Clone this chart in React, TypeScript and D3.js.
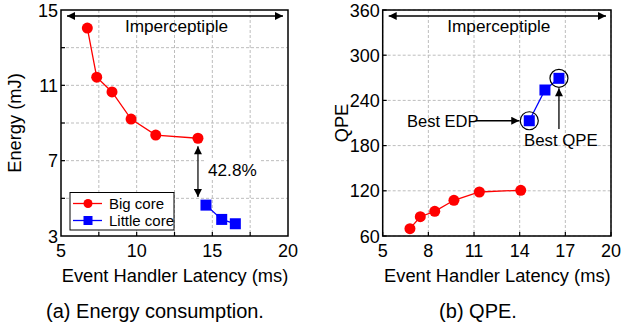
import * as React from 'react';
import * as d3 from 'd3';

// latency (ms) / energy (mJ) / QPE
const bigLatencyA = [6.74, 7.36, 8.37, 9.63, 11.26, 14.05];
const bigEnergy = [14.04, 11.43, 10.65, 9.21, 8.36, 8.19];
const littleLatencyA = [14.58, 15.62, 16.52];
const littleEnergy = [4.64, 3.88, 3.65];

const bigLatencyB = [6.79, 7.47, 8.42, 9.68, 11.35, 14.07];
const bigQpe = [69.7, 85.6, 92.8, 107.4, 118.4, 120.7];
const littleLatencyB = [14.63, 15.66, 16.58];
const littleQpe = [213, 253.8, 269.3];

const energyTicks = [3, 7, 11, 15];
const energyGrid = [5, 7, 9, 11, 13];
const latencyTicksA = [5, 10, 15, 20];
const latencyGridA = [7.5, 10, 12.5, 15, 17.5];
const qpeTicks = [60, 120, 180, 240, 300, 360];
const latencyTicksB = [5, 8, 11, 14, 17, 20];

const FONT = '"Liberation Sans", Arial, Helvetica, sans-serif';

function App() {
    const ref = React.useRef<SVGSVGElement>(null);

    React.useEffect(() => {
        const svg = d3.select(ref.current);
        svg.selectAll('*').remove();

        const defs = svg.append('defs');
        defs.append('marker')
            .attr('id', 'head')
            .attr('viewBox', '0 0 10 10')
            .attr('refX', 10)
            .attr('refY', 5)
            .attr('markerWidth', 10)
            .attr('markerHeight', 8)
            .attr('markerUnits', 'userSpaceOnUse')
            .attr('orient', 'auto-start-reverse')
            .append('path')
            .attr('d', 'M0,0L10,5L0,10Z')
            .attr('fill', '#000');

        const top = 10, bottom = 236;

        const drawPanel = (cfg) => {
            const x = d3.scaleLinear().domain([5, 20]).range([cfg.left, cfg.right]);
            const y = d3.scaleLinear().domain(cfg.yDomain).range([bottom, top]);
            const g = svg.append('g');

            // grid
            g.selectAll('.vgrid').data(cfg.xGrid).enter().append('line')
                .attr('x1', d => x(d)).attr('x2', d => x(d))
                .attr('y1', top).attr('y2', bottom)
                .attr('stroke', '#bdbdbd').attr('stroke-width', 1)
                .attr('stroke-dasharray', '3,2');
            g.selectAll('.hgrid').data(cfg.yGrid).enter().append('line')
                .attr('x1', cfg.left).attr('x2', cfg.right)
                .attr('y1', d => y(d)).attr('y2', d => y(d))
                .attr('stroke', '#bdbdbd').attr('stroke-width', 1)
                .attr('stroke-dasharray', '3,2');

            // inward ticks
            g.selectAll('.xt').data(cfg.xGrid).enter().append('line')
                .attr('x1', d => x(d)).attr('x2', d => x(d))
                .attr('y1', bottom).attr('y2', bottom - 4)
                .attr('stroke', '#000').attr('stroke-width', 1.2);
            g.selectAll('.yt').data(cfg.yGrid).enter().append('line')
                .attr('x1', cfg.left).attr('x2', cfg.left + 4)
                .attr('y1', d => y(d)).attr('y2', d => y(d))
                .attr('stroke', '#000').attr('stroke-width', 1.2);

            g.append('rect')
                .attr('x', cfg.left).attr('y', top)
                .attr('width', cfg.right - cfg.left).attr('height', bottom - top)
                .attr('fill', 'none').attr('stroke', '#000').attr('stroke-width', 1.5);

            // tick labels
            g.selectAll('.xl').data(cfg.xTicks).enter().append('text')
                .attr('x', d => x(d)).attr('y', 257)
                .attr('text-anchor', 'middle')
                .style('font-size', '18px').style('font-family', FONT)
                .text(d => d);
            g.selectAll('.yl').data(cfg.yTicks).enter().append('text')
                .attr('x', cfg.left - 3).attr('y', d => y(d) + 6.5)
                .attr('text-anchor', 'end')
                .style('font-size', '18px').style('font-family', FONT)
                .text(d => d);

            // axis titles
            g.append('text')
                .attr('x', (cfg.left + cfg.right) / 2 + 0.5).attr('y', 282)
                .attr('text-anchor', 'middle')
                .style('font-size', '18.3px').style('font-family', FONT)
                .text('Event Handler Latency (ms)');
            g.append('text')
                .attr('transform', 'translate(' + cfg.yLabelX + ',' + (top + bottom) / 2 + ') rotate(-90)')
                .attr('text-anchor', 'middle')
                .style('font-size', '18.3px').style('font-family', FONT)
                .text(cfg.yLabel);
            g.append('text')
                .attr('x', cfg.captionX).attr('y', 318)
                .attr('text-anchor', 'middle')
                .style('font-size', '20px').style('font-family', FONT)
                .text(cfg.caption);

            // imperceptible range arrow
            g.append('line')
                .attr('x1', cfg.left + 6).attr('x2', cfg.right - 5)
                .attr('y1', 16).attr('y2', 16)
                .attr('stroke', '#000').attr('stroke-width', 1.5)
                .attr('marker-start', 'url(#head)').attr('marker-end', 'url(#head)');
            g.append('text')
                .attr('x', (cfg.left + cfg.right) / 2 + 2).attr('y', 32)
                .attr('text-anchor', 'middle')
                .style('font-size', '17.2px').style('font-family', FONT)
                .text('Imperceptiple');

            const line = d3.line<[number, number]>().x(d => x(d[0])).y(d => y(d[1]));
            const big = cfg.bigX.map((v, i) => [v, cfg.bigY[i]] as [number, number]);
            const little = cfg.littleX.map((v, i) => [v, cfg.littleY[i]] as [number, number]);

            g.append('path').datum(big).attr('d', line)
                .attr('fill', 'none').attr('stroke', '#ff0000').attr('stroke-width', 1.3);
            g.selectAll('.big').data(big).enter().append('circle')
                .attr('cx', d => x(d[0])).attr('cy', d => y(d[1])).attr('r', 5.5)
                .attr('fill', '#ff0000');
            g.append('path').datum(little).attr('d', line)
                .attr('fill', 'none').attr('stroke', '#0000ff').attr('stroke-width', 1.3);
            g.selectAll('.little').data(little).enter().append('rect')
                .attr('x', d => x(d[0]) - 5.5).attr('y', d => y(d[1]) - 5.5)
                .attr('width', 11).attr('height', 11)
                .attr('fill', '#0000ff');

            return { g, x, y, big, little };
        };

        // (a) energy
        const a = drawPanel({
            left: 61, right: 288, yDomain: [3, 15],
            xGrid: latencyGridA, yGrid: energyGrid, xTicks: latencyTicksA, yTicks: energyTicks,
            yLabel: 'Energy (mJ)', yLabelX: 21, caption: '(a) Energy consumption.', captionX: 155,
            bigX: bigLatencyA, bigY: bigEnergy, littleX: littleLatencyA, littleY: littleEnergy
        });
        const lastBig = a.big[a.big.length - 1];
        const firstLittle = a.little[0];
        const ax = a.x(lastBig[0]);
        a.g.append('line')
            .attr('x1', ax).attr('x2', ax)
            .attr('y1', a.y(lastBig[1]) + 8).attr('y2', a.y(firstLittle[1]) - 8)
            .attr('stroke', '#333').attr('stroke-width', 1.5)
            .attr('marker-start', 'url(#head)').attr('marker-end', 'url(#head)');
        a.g.append('rect')
            .attr('x', 206).attr('y', 160).attr('width', 53).attr('height', 19)
            .attr('fill', '#fff');
        a.g.append('text')
            .attr('x', 208).attr('y', 176)
            .style('font-size', '17.2px').style('font-family', FONT)
            .text('42.8%');

        // legend
        const legend = a.g.append('g');
        legend.append('rect')
            .attr('x', 70).attr('y', 192.5).attr('width', 104).attr('height', 37.5)
            .attr('fill', '#fff').attr('stroke', '#000').attr('stroke-width', 1);
        legend.append('line').attr('x1', 73).attr('x2', 102).attr('y1', 203.5).attr('y2', 203.5)
            .attr('stroke', '#ff0000').attr('stroke-width', 1.3);
        legend.append('circle').attr('cx', 88).attr('cy', 203.5).attr('r', 4.5).attr('fill', '#ff0000');
        legend.append('line').attr('x1', 73).attr('x2', 102).attr('y1', 220.5).attr('y2', 220.5)
            .attr('stroke', '#0000ff').attr('stroke-width', 1.3);
        legend.append('rect').attr('x', 83.5).attr('y', 216).attr('width', 9).attr('height', 9).attr('fill', '#0000ff');
        legend.append('text').attr('x', 109).attr('y', 208.5)
            .style('font-size', '15px').style('font-family', FONT).text('Big core');
        legend.append('text').attr('x', 109).attr('y', 226)
            .style('font-size', '15px').style('font-family', FONT).text('Little core');

        // (b) QPE
        const b = drawPanel({
            left: 382.7, right: 611, yDomain: [60, 360],
            xGrid: latencyTicksB, yGrid: qpeTicks, xTicks: latencyTicksB, yTicks: qpeTicks,
            yLabel: 'QPE', yLabelX: 348, caption: '(b) QPE.', captionX: 478,
            bigX: bigLatencyB, bigY: bigQpe, littleX: littleLatencyB, littleY: littleQpe
        });
        const edp = b.little[0];
        const best = b.little[b.little.length - 1];
        [edp, best].forEach(p => {
            b.g.append('circle')
                .attr('cx', b.x(p[0])).attr('cy', b.y(p[1])).attr('r', 9)
                .attr('fill', 'none').attr('stroke', '#000').attr('stroke-width', 1.2);
        });
        b.g.append('line')
            .attr('x1', 476).attr('x2', b.x(edp[0]) - 10)
            .attr('y1', b.y(edp[1])).attr('y2', b.y(edp[1]))
            .attr('stroke', '#000').attr('stroke-width', 1.3)
            .attr('marker-end', 'url(#head)');
        b.g.append('text')
            .attr('x', 407).attr('y', b.y(edp[1]) + 6)
            .style('font-size', '16.5px').style('font-family', FONT)
            .text('Best EDP');
        b.g.append('line')
            .attr('x1', b.x(best[0])).attr('x2', b.x(best[0]))
            .attr('y1', 129).attr('y2', b.y(best[1]) + 10)
            .attr('stroke', '#000').attr('stroke-width', 1.3)
            .attr('marker-end', 'url(#head)');
        b.g.append('text')
            .attr('x', 524).attr('y', 146)
            .style('font-size', '16.8px').style('font-family', FONT)
            .text('Best QPE');
    }, []);

    return (
        <svg ref={ref} width={621} height={330}
            style={{ position: 'absolute', left: 0, top: 0, background: '#fff' }} />
    );
}

export default App;
